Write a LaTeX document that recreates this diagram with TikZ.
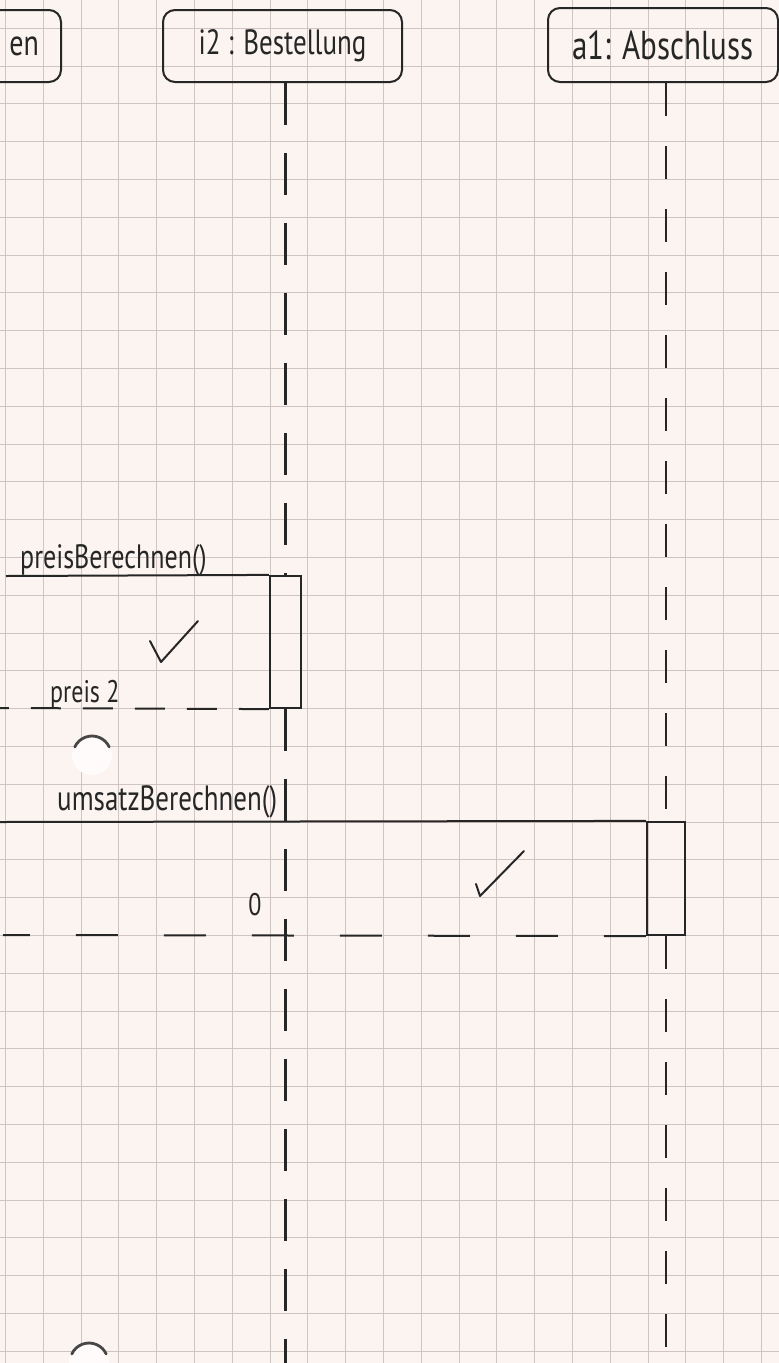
\documentclass[tikz,border=0pt]{standalone}
\usepackage{fontspec}
\setmainfont{PT Sans}
\usepackage{graphicx}
\definecolor{paper}{HTML}{FBF4F1}
\definecolor{gridc}{HTML}{CFC4C1}
\definecolor{ink}{HTML}{262626}
\definecolor{holec}{HTML}{FEFBFA}
\newcommand{\hw}[2]{{\fontsize{#1}{#1}\selectfont\scalebox{1}[1.3]{#2}}}
\begin{document}
\begin{tikzpicture}[x=1pt,y=-1pt,
  gridline/.style={gridc, line width=1pt},
  header/.style={draw=ink, line width=2pt, rounded corners=12pt, inner sep=0pt, text=ink},
  actbox/.style={draw=ink, line width=2.2pt, inner sep=0pt},
  lifeline/.style={draw=ink, line width=2.2pt, dash pattern=on 42pt off 28pt},
  msg/.style={draw=ink, line width=2pt},
  ret/.style={draw=ink, line width=2pt, dash pattern=on 42pt off 46pt},
  lbl/.style={text=ink, inner sep=0pt, anchor=base west},
  tick/.style={draw=ink, line width=2pt, line cap=round, line join=round},
  holearc/.style={draw=ink!85, line width=2.8pt, line cap=round},
]
\useasboundingbox (0,0) rectangle (779,1363);
\fill[paper] (0,0) rectangle (779,1363);
% grid paper
\foreach \i in {0,...,20} \draw[gridline] ({5.5+37.8*\i},0) -- ({5.5+37.8*\i},1363);
\foreach \j in {0,...,35} \draw[gridline] (0,{28.3+37.8*\j}) -- (779,{28.3+37.8*\j});
% punch holes
\fill[holec] (92,755) circle[radius=20];
\draw[holearc] (92,755) ++(205:19) arc[start angle=205, end angle=335, radius=19];
\fill[holec] (89,1362) circle[radius=20];
\draw[holearc] (89,1362) ++(205:19) arc[start angle=205, end angle=335, radius=19];
% headers
\node[header, minimum height=72pt, text width=160pt, align=right, inner xsep=22pt, anchor=east] (k1) at (62,46) {\hw{28}{en}};
\node[header, minimum width=239pt, minimum height=72pt] (i2) at (282.5,46) {\hw{27}{i2 : Bestellung}};
\node[header, minimum width=230pt, minimum height=74pt] (a1) at (663,45) {\hw{31}{a1: Abschluss}};
% activations
\node[actbox, minimum width=31pt, minimum height=132pt] (act1) at (285.5,642) {};
\node[actbox, minimum width=38pt, minimum height=113pt] (act2) at (666,878.5) {};
% lifelines
\coordinate (i2end) at (285.5,1363);
\coordinate (a1end) at (666,1363);
\draw[lifeline] (i2.south -| act1.north) -- (act1.north);
\draw[lifeline] (act1.south) -- (i2end);
\draw[lifeline, dash pattern=on 33pt off 30pt] (a1.south -| act2.north) -- (act2.north);
\draw[lifeline, dash pattern=on 33pt off 30pt] (act2.south) -- (a1end);
% messages
\coordinate (m1s) at (6,576);
\coordinate (r1e) at (0,708);
\coordinate (m2s) at (0,822);
\coordinate (r2e) at (3,935);
\draw[msg] (m1s) -- (act1.north west);
\draw[ret, dash pattern=on 30pt off 22pt] (act1.south west) -- (r1e);
\draw[msg] (m2s) -- (act2.north west);
\draw[ret] (act2.south west) -- (r2e);
% labels
\node[lbl] (l1) at (20,568) {\hw{26}{preisBerechnen()}};
\node[lbl] (l2) at (50,702) {\hw{24}{preis 2}};
\node[lbl] (l3) at (57,810) {\hw{27}{umsatzBerechnen()}};
\node[lbl, anchor=center] (l4) at (255,905) {\hw{24}{0}};
% check marks
\draw[tick] (150,641) -- (161,662) -- (198,621);
\draw[tick] (476,884) -- (480,896) -- (524,851);
\end{tikzpicture}
\end{document}
